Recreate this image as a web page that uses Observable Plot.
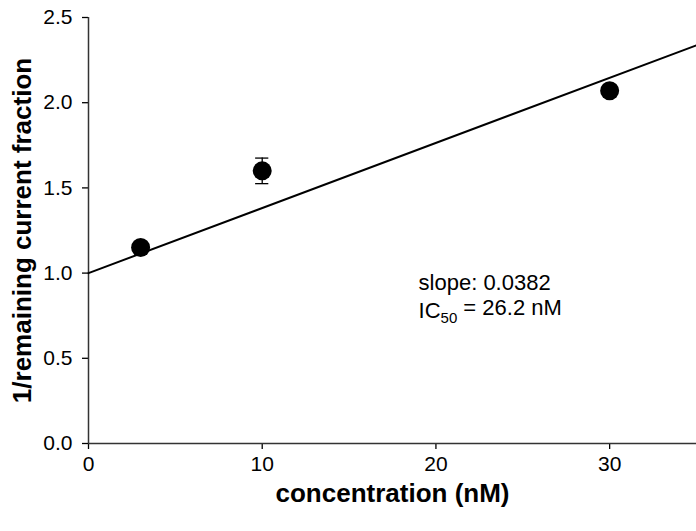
<!DOCTYPE html>
<html>
<head>
<meta charset="utf-8">
<script src="https://cdn.jsdelivr.net/npm/d3@7"></script>
<script src="https://cdn.jsdelivr.net/npm/@observablehq/plot@0.6"></script>
<style>
  html, body { margin: 0; padding: 0; background: #fff; }
  #chart svg { display: block; }
</style>
</head>
<body>
<div id="chart"></div>
<script>
const concentration = [3, 10, 30];
const inverseFraction = [1.15, 1.60, 2.07];
const errorSize = [0.02, 0.075, 0.02];
const fitSlope = 0.0382;
const fitIntercept = 1.0;
const fitRange = [0, 35];
const xTicks = [0, 10, 20, 30];
const yTicks = [0, 0.5, 1.0, 1.5, 2.0, 2.5];
const annotationLines = ["slope: 0.0382", "IC50 = 26.2 nM"];

const points = concentration.map((c, i) => ({x: c, y: inverseFraction[i], e: errorSize[i]}));
const fit = fitRange.map(x => ({x, y: fitIntercept + fitSlope * x}));
const font = "Liberation Sans, Arial, sans-serif";
const fmtX = d3.format("d");
const fmtY = d3.format(".1f");

const chart = Plot.plot({
  width: 696,
  height: 531,
  marginLeft: 88,
  marginRight: 0,
  marginTop: 17,
  marginBottom: 88,
  style: {fontFamily: font, background: "#fff", color: "#000"},
  x: {domain: [0, 35]},
  y: {domain: [0, 2.5]},
  marks: [
    Plot.axisX({ticks: xTicks, tickSize: 6, tickFormat: () => "", label: null, strokeWidth: 1.3}),
    Plot.axisY({ticks: yTicks, tickSize: 6, tickFormat: () => "", label: null, strokeWidth: 1.3}),
    Plot.text(xTicks, {x: d => d, frameAnchor: "bottom", lineAnchor: "top", dy: 13, text: d => fmtX(d), fontSize: 21, fill: "#000", fontFamily: font}),
    Plot.text(yTicks, {y: d => d, frameAnchor: "left", textAnchor: "end", dx: -16, text: d => fmtY(d), fontSize: 21, fill: "#000", fontFamily: font}),
    Plot.ruleX([0], {stroke: "#333", strokeWidth: 1.5}),
    Plot.ruleY([0], {stroke: "#333", strokeWidth: 1.5}),
    Plot.line(fit, {x: "x", y: "y", stroke: "#000", strokeWidth: 2}),
    Plot.ruleX(points, {x: "x", y1: d => d.y - d.e, y2: d => d.y + d.e, stroke: "#000", strokeWidth: 1.3}),
    Plot.ruleY(points, {y: d => d.y - d.e, x1: d => d.x - 0.38, x2: d => d.x + 0.38, stroke: "#000", strokeWidth: 1.3}),
    Plot.ruleY(points, {y: d => d.y + d.e, x1: d => d.x - 0.38, x2: d => d.x + 0.38, stroke: "#000", strokeWidth: 1.3}),
    Plot.dot(points, {x: "x", y: "y", r: 9.5, fill: "#000", stroke: "none"}),
    Plot.text([annotationLines[0]], {x: 19.0, y: 0.945, text: d => d, textAnchor: "start", fontSize: 22, fill: "#000", fontFamily: font}),
    Plot.text([annotationLines[1]], {x: 19.0, y: 0.78, text: d => d, textAnchor: "start", fontSize: 22, fill: "#000", fontFamily: font}),
    Plot.text(["concentration (nM)"], {frameAnchor: "bottom", lineAnchor: "middle", textAnchor: "middle", dy: 50, text: d => d, fontSize: 26, fontWeight: "bold", fill: "#000", fontFamily: font}),
    Plot.text(["1/remaining current fraction"], {frameAnchor: "left", lineAnchor: "middle", textAnchor: "middle", dx: -66, rotate: -90, text: d => d, fontSize: 26, fontWeight: "bold", fill: "#000", fontFamily: font})
  ]
});

// subscript for IC50
d3.select(chart).selectAll("text").each(function() {
  const t = d3.select(this);
  if (t.text() === annotationLines[1]) {
    t.text(null);
    t.append("tspan").text("IC");
    t.append("tspan").attr("font-size", 15).attr("dy", "0.35em").text("50");
    t.append("tspan").attr("dy", "-0.35em").text(" = 26.2 nM");
  }
});

document.getElementById("chart").appendChild(chart);
</script>
</body>
</html>
